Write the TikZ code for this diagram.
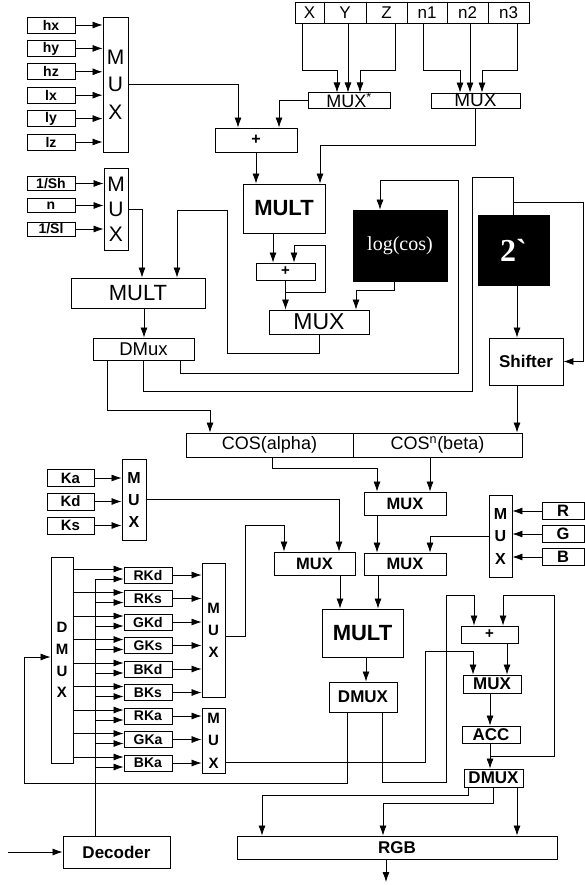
\documentclass[tikz,border=0pt]{standalone}
\usepackage{fontspec}
\setmainfont{Liberation Sans}
\newfontfamily\serifface{Liberation Serif}
\usetikzlibrary{arrows.meta}
\newcommand\fsz[2][]{\fontsize{#2}{#2}\selectfont}
\tikzset{
  box/.style={draw, line width=0.9pt, inner sep=0pt, font=\bfseries\fsz{14}},
  sz/.style 2 args={minimum width=#1, minimum height=#2},
  blk/.style={fill=black, draw=black, text=white, inner sep=0pt},
  stack/.style={align=center, font=\bfseries\fontsize{15}{22}\selectfont},
  arr/.style={-{Latex[length=10pt,width=7pt]}}
}
\begin{document}
\begin{tikzpicture}[x=1pt,y=-1pt,line width=0.75pt]
\useasboundingbox (0,0) rectangle (585,885);

% top left inputs
\foreach \n [count=\i from 0] in {hx,hy,hz,lx,ly,lz}
  \node[box, sz={48}{16}] (\n) at (51,25+23.4*\i) {\n};
\node[box, sz={25}{135}, align=center, font=\fontsize{21}{27.5}\selectfont] (mux1) at (115.5,84.5) {M\\U\\X};
\foreach \n in {hx,hy,hz,lx,ly,lz}
  \draw[arr] (\n.east) -- (\n.east -| mux1.west);

\node[box, sz={48}{14}] (sh) at (51,183.5) {1/Sh};
\node[box, sz={48}{14}] (nn) at (51,205.5) {n};
\node[box, sz={48}{14}] (sl) at (51,229) {1/Sl};
\node[box, sz={24}{82}, align=center, font=\fontsize{21}{25}\selectfont] (mux2) at (116,209) {M\\U\\X};
\foreach \n in {sh,nn,sl}
  \draw[arr] (\n.east) -- (\n.east -| mux2.west);

% vectors and exponents
\node[box, sz={29}{21}, font=\fsz{17}] (tX) at (309.5,12.5) {X};
\node[box, sz={42}{21}, font=\fsz{17}] (tY) at (345,12.5) {Y};
\node[box, sz={41}{21}, font=\fsz{17}] (tZ) at (386.5,12.5) {Z};
\node[box, sz={40}{21}, font=\fsz{17}] (tn1) at (427,12.5) {n1};
\node[box, sz={41}{21}, font=\fsz{17}] (tn2) at (467.5,12.5) {n2};
\node[box, sz={41}{21}, font=\fsz{17}] (tn3) at (508.5,12.5) {n3};
\node[box, sz={82}{15}, font=\fsz{18}] (muxs) at (349,100.5) {MUX\textsuperscript{*}};
\node[box, sz={89}{15}, font=\fsz{19}] (muxn) at (475.5,100.5) {MUX};
\draw[arr] ([xshift=-7.5pt]tX.south) |- (337,70) -- ([xshift=-12pt]muxs.north);
\draw[arr] ([xshift=3pt]tY.south) -- ([xshift=-1pt]muxs.north);
\draw[arr] ([xshift=8.5pt]tZ.south) |- (360,70) -- ([xshift=11pt]muxs.north);
\draw[arr] ([xshift=-4pt]tn1.south) |- (460,70) -- ([xshift=-15.5pt]muxn.north);
\draw[arr] ([xshift=2.5pt]tn2.south) -- ([xshift=-5.5pt]muxn.north);
\draw[arr] ([xshift=8.5pt]tn3.south) |- (482,70) -- ([xshift=6.5pt]muxn.north);

% dot product and log
\node[box, sz={82}{24}, font=\bfseries\fsz{16}] (plus1) at (256,140) {+};
\node[box, sz={82}{49}, font=\bfseries\fsz{22}] (multA) at (284,208.5) {MULT};
\node[box, sz={59}{17}, font=\bfseries\fsz{15}] (plus2) at (285.5,271.5) {+};
\node[box, sz={100}{24}, font=\fsz{23}] (mux3) at (319,322) {MUX};
\node[blk, sz={94}{71}, font=\serifface\fsz{20}] (logcos) at (400,245.5) {log(cos)};
\node[blk, sz={71}{70}, font=\serifface\bfseries\fsz{32}] (pow2) at (513.5,250) {2\textasciigrave};
\node[box, sz={74}{47}, font=\bfseries\fsz{17}] (shifter) at (526,361.5) {Shifter};
\node[box, sz={134}{30}, font=\fsz{22}] (multB) at (138,293) {MULT};
\node[box, sz={101}{22}, font=\fsz{18.5}] (dmuxA) at (143.5,349) {DMux};
\node[box, sz={167}{24}, font=\fsz{18}] (cosA) at (269.5,445) {COS(alpha)};
\node[box, sz={169}{24}, font=\fsz{18}] (cosB) at (437.5,445) {COS\textsuperscript{n}(beta)};

\draw[arr] (mux1.east) -| ([xshift=-18pt]plus1.north);
\draw[arr] (muxs.west) -| ([xshift=23pt]plus1.north);
\draw[arr] (plus1.south) -- (plus1.south |- multA.north);
\draw[arr] (muxn.south) -- ++(0,37) -| ([xshift=36pt]multA.north);
\draw[arr] (mux2.east) -| ([xshift=4pt]multB.north);
\draw[arr] (mux3.south) -- ++(0,19) -| (227,210) -| ([xshift=39pt]multB.north);
\draw[arr] ([xshift=-11pt]multA.south) -- ([xshift=-11pt]multA.south |- plus2.north);
\draw[arr] (plus2.south) -- (plus2.south |- mux3.north);
\draw[arr] (plus2.south) ++(0,12) -| (325,245) -| ([xshift=8.5pt]plus2.north);
\draw[arr] ([xshift=-6pt]logcos.south) -- ++(0,9) -| ([xshift=37pt]mux3.north);
\draw[arr] ([xshift=6pt]multB.south) -- ([xshift=6pt]multB.south |- dmuxA.north);
\draw[arr] ([xshift=-36.5pt]dmuxA.south) -- ++(0,50) -| ([xshift=-59.5pt]cosA.north);
\draw (dmuxA.south) -- ++(0,31) -| (472,177) -| (pow2.north);
\draw[arr] (pow2.north) ++(0,-12) -| ([xshift=20pt]shifter.east) -- (shifter.east);
\draw[arr] ([xshift=36.5pt]dmuxA.south) -- ++(0,13) -| (458,180) -| ([xshift=-20pt]logcos.north);
\draw[arr] ([xshift=3.5pt]pow2.south) -- ([xshift=3.5pt]pow2.south |- shifter.north);
\draw[arr] ([xshift=-9pt]shifter.south) -- ([xshift=-9pt]shifter.south |- cosB.north);

% colour path
\node[box, sz={47}{17}, font=\bfseries\fsz{15}] (Ka) at (70.5,478) {Ka};
\node[box, sz={47}{17}, font=\bfseries\fsz{15}] (Kd) at (70.5,501.5) {Kd};
\node[box, sz={47}{17}, font=\bfseries\fsz{15}] (Ks) at (70.5,525.5) {Ks};
\node[box, sz={24}{81}, stack, font=\bfseries\fontsize{16}{22}\selectfont] (muxK) at (134,499.5) {M\\U\\X};
\foreach \n in {Ka,Kd,Ks}
  \draw[arr] (\n.east) -- (\n.east -| muxK.west);
\node[box, sz={82}{23}, font=\bfseries\fsz{16.5}] (muxA) at (405,503.5) {MUX};
\node[box, sz={82}{22}, font=\bfseries\fsz{16.5}] (muxB) at (405,564) {MUX};
\node[box, sz={81}{23}, font=\bfseries\fsz{16.5}] (muxC) at (314.5,563.5) {MUX};
\node[box, sz={23}{82}, stack, font=\bfseries\fontsize{16}{22.5}\selectfont] (muxRGB) at (500.5,536) {M\\U\\X};
\node[box, sz={42}{17}, font=\bfseries\fsz{16.5}] (R) at (563,511) {R};
\node[box, sz={42}{17}, font=\bfseries\fsz{16.5}] (G) at (563,534) {G};
\node[box, sz={42}{17}, font=\bfseries\fsz{16.5}] (B) at (563,557) {B};
\foreach \n in {R,G,B}
  \draw[arr] (\n.west) -- (\n.west -| muxRGB.east);
\node[box, sz={81}{48}, font=\bfseries\fsz{22}] (multC) at (362.5,633) {MULT};
\node[box, sz={68}{30}, font=\bfseries\fsz{17}] (dmuxB) at (363,697) {DMUX};
\node[box, sz={57}{17}, font=\bfseries\fsz{15}] (plus3) at (489.5,634.5) {+};
\node[box, sz={58}{18}, font=\bfseries\fsz{17}] (muxD) at (492,684) {MUX};
\node[box, sz={58}{17}, font=\bfseries\fsz{17}] (acc) at (491,734.5) {ACC};
\node[box, sz={59}{18}, font=\bfseries\fsz{17}] (dmuxC) at (493.5,778) {DMUX};
\node[box, sz={320}{23}, font=\bfseries\fsz{17}] (rgb) at (397,847.5) {RGB};

\draw[arr] ([xshift=2.5pt]cosA.south) -- ++(0,11) -| ([xshift=-28pt]muxA.north);
\draw[arr] ([xshift=-7.5pt]cosB.south) -- ([xshift=-7.5pt]cosB.south |- muxA.north);
\draw[arr] ([xshift=-28pt]muxA.south) -- ([xshift=-28pt]muxB.north);
\draw[arr] (muxRGB.west) -| ([xshift=25pt]muxB.north);
\draw[arr] (muxK.east) -| ([xshift=24.5pt]muxC.north);
\draw[arr] ([xshift=25.5pt]muxC.south) -- ([xshift=25.5pt]muxC.south |- multC.north);
\draw[arr] ([xshift=-27pt]muxB.south) -- ([xshift=-27pt]muxB.south |- multC.north);
\draw[arr] ([xshift=3.5pt]multC.south) -- ([xshift=3.5pt]multC.south |- dmuxB.north);

% coefficient registers
\node[box, sz={107}{32}, font=\bfseries\fsz{17}] (decoder) at (116.5,852) {Decoder};
\node[box, sz={22}{206}, stack, font=\bfseries\fontsize{15}{21.7}\selectfont] (dmuxL) at (62,660) {D\\M\\U\\X};
\foreach \n [count=\i from 0] in {RKd,RKs,GKd,GKs,BKd,BKs,RKa,GKa,BKa}
  \node[box, sz={48}{16}] (\n) at (148,575+23.5*\i) {\n};
\node[box, sz={23}{134}, stack] (muxR) at (213.5,630) {M\\U\\X};
\node[box, sz={23}{65}, stack, font=\bfseries\fontsize{15}{22.5}\selectfont] (muxS) at (213.5,740.5) {M\\U\\X};
\coordinate (in) at (8,852);
\coordinate (out) at (386,882);
\draw[arr] (in) -- (decoder.west);
\draw ([xshift=-21.5pt]decoder.north) -- ++(0,-257);
\foreach \n in {RKd,RKs,GKd,GKs,BKd,BKs,RKa,GKa,BKa}{
  \draw[arr] ([yshift=6pt]\n.west) ++(-51,0) -- ([yshift=6pt]\n.west);
  \draw[arr] ([yshift=-4pt]\n.west) ++(-29,0) -- ([yshift=-4pt]\n.west);
}
\foreach \n in {RKd,RKs,GKd,GKs,BKd,BKs}
  \draw[arr] (\n.east) -- (\n.east -| muxR.west);
\foreach \n in {RKa,GKa,BKa}
  \draw[arr] (\n.east) -- (\n.east -| muxS.west);

\draw[arr] ([yshift=-6pt]muxR.east) -| (245,525) -| ([xshift=-30.5pt]muxC.north);
\draw[arr] ([yshift=-21.5pt]muxS.east) -| (425,651) -| ([xshift=-19pt]muxD.north);
\draw[arr] ([xshift=-16pt]dmuxB.south) |- (24,783) |- ([yshift=3pt]dmuxL.west);
\draw[arr] ([xshift=19pt]dmuxB.south) |- (446,782) |- (474,595) -- ([xshift=-15.5pt]plus3.north);
\draw[arr] ([xshift=17.5pt]plus3.south) -- ([xshift=17.5pt]plus3.south |- muxD.north);
\draw[arr] ([xshift=-2pt]muxD.south) -- ([xshift=-2pt]muxD.south |- acc.north);
\draw[arr] ([xshift=-1pt]acc.south) -- ([xshift=-1pt]acc.south |- dmuxC.north);
\draw[arr] ([xshift=-1pt]acc.south) ++(0,13) -| (554,595) -| ([xshift=13.5pt]plus3.north);
\draw[arr] ([xshift=-25.5pt]dmuxC.south) -- ++(0,8) -| ([xshift=-135pt]rgb.north);
\draw[arr] (dmuxC.south) -- ++(0,16) -| ([xshift=-14pt]rgb.north);
\draw[arr] ([xshift=23.5pt]dmuxC.south) -- ([xshift=23.5pt]dmuxC.south |- rgb.north);
\draw[arr] ([xshift=-11pt]rgb.south) -- (out);
\end{tikzpicture}
\end{document}
